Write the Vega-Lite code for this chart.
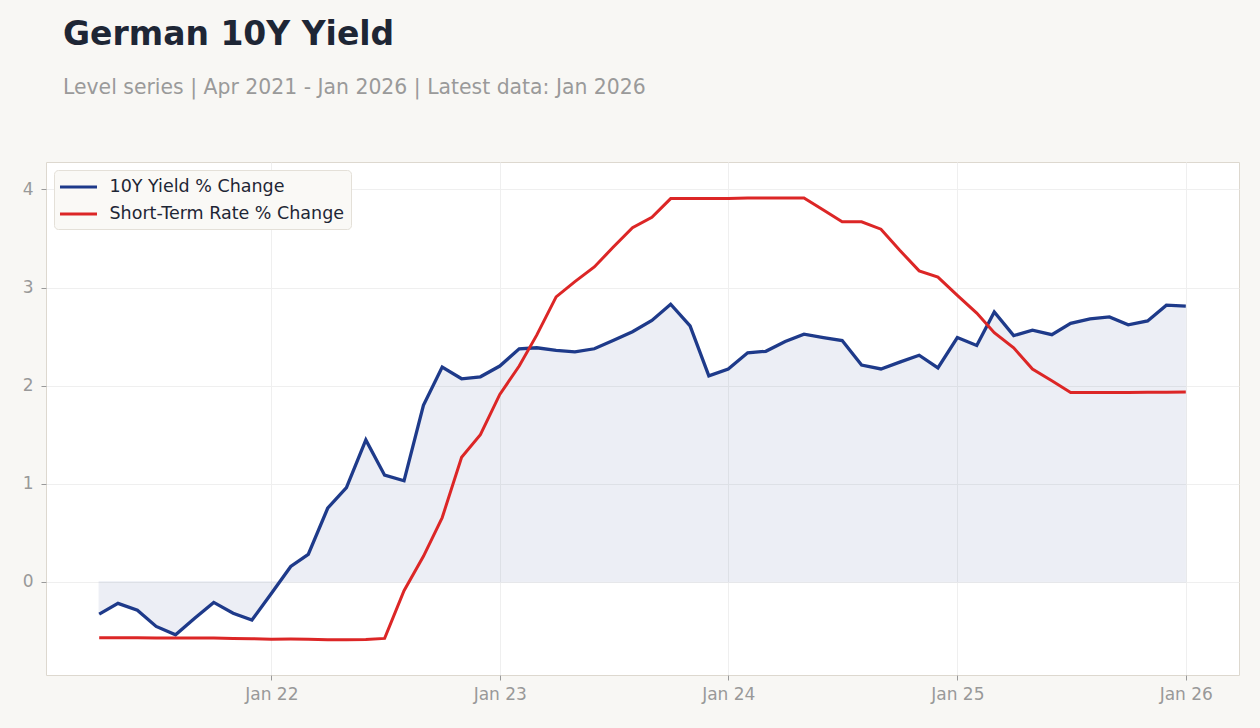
{
  "$schema": "https://vega.github.io/schema/vega-lite/v6.json",
  "autosize": {"type": "none"},
  "width": 1193,
  "height": 513,
  "padding": {"left": 46, "top": 162, "right": 21, "bottom": 53},
  "background": "#f8f7f4",
  "title": {
    "text": "German 10Y Yield",
    "subtitle": "Level series | Apr 2021 - Jan 2026 | Latest data: Jan 2026",
    "anchor": "start",
    "frame": "group",
    "dx": 17,
    "offset": 64,
    "font": "DejaVu Sans",
    "fontSize": 33,
    "fontWeight": "bold",
    "color": "#1e2635",
    "subtitleFont": "DejaVu Sans",
    "subtitleFontSize": 20.4,
    "subtitleColor": "#9a9a9a",
    "subtitlePadding": 26
  },
  "config": {
    "font": "DejaVu Sans",
    "view": {"fill": "#ffffff", "stroke": "#ddd8cf", "strokeWidth": 1},
    "axis": {
      "domain": false,
      "labelColor": "#999999",
      "labelFontSize": 17,
      "labelFont": "DejaVu Sans",
      "tickColor": "#999999",
      "tickSize": 5,
      "gridColor": "#efefef",
      "gridWidth": 1,
      "title": null
    }
  },
  "data": {
    "values": [
      {"date": "2021-04-01", "series": "10Y Yield % Change", "value": -0.33},
      {"date": "2021-05-01", "series": "10Y Yield % Change", "value": -0.22},
      {"date": "2021-06-01", "series": "10Y Yield % Change", "value": -0.29},
      {"date": "2021-07-01", "series": "10Y Yield % Change", "value": -0.455},
      {"date": "2021-08-01", "series": "10Y Yield % Change", "value": -0.54},
      {"date": "2021-09-01", "series": "10Y Yield % Change", "value": -0.37},
      {"date": "2021-10-01", "series": "10Y Yield % Change", "value": -0.21},
      {"date": "2021-11-01", "series": "10Y Yield % Change", "value": -0.32},
      {"date": "2021-12-01", "series": "10Y Yield % Change", "value": -0.39},
      {"date": "2022-01-01", "series": "10Y Yield % Change", "value": -0.12},
      {"date": "2022-02-01", "series": "10Y Yield % Change", "value": 0.156},
      {"date": "2022-03-01", "series": "10Y Yield % Change", "value": 0.28},
      {"date": "2022-04-01", "series": "10Y Yield % Change", "value": 0.75},
      {"date": "2022-05-01", "series": "10Y Yield % Change", "value": 0.96},
      {"date": "2022-06-01", "series": "10Y Yield % Change", "value": 1.446},
      {"date": "2022-07-01", "series": "10Y Yield % Change", "value": 1.087},
      {"date": "2022-08-01", "series": "10Y Yield % Change", "value": 1.03},
      {"date": "2022-09-01", "series": "10Y Yield % Change", "value": 1.80},
      {"date": "2022-10-01", "series": "10Y Yield % Change", "value": 2.19},
      {"date": "2022-11-01", "series": "10Y Yield % Change", "value": 2.07},
      {"date": "2022-12-01", "series": "10Y Yield % Change", "value": 2.09},
      {"date": "2023-01-01", "series": "10Y Yield % Change", "value": 2.20},
      {"date": "2023-02-01", "series": "10Y Yield % Change", "value": 2.376},
      {"date": "2023-03-01", "series": "10Y Yield % Change", "value": 2.386},
      {"date": "2023-04-01", "series": "10Y Yield % Change", "value": 2.36},
      {"date": "2023-05-01", "series": "10Y Yield % Change", "value": 2.345},
      {"date": "2023-06-01", "series": "10Y Yield % Change", "value": 2.376},
      {"date": "2023-07-01", "series": "10Y Yield % Change", "value": 2.46},
      {"date": "2023-08-01", "series": "10Y Yield % Change", "value": 2.55},
      {"date": "2023-09-01", "series": "10Y Yield % Change", "value": 2.665},
      {"date": "2023-10-01", "series": "10Y Yield % Change", "value": 2.83},
      {"date": "2023-11-01", "series": "10Y Yield % Change", "value": 2.61},
      {"date": "2023-12-01", "series": "10Y Yield % Change", "value": 2.10},
      {"date": "2024-01-01", "series": "10Y Yield % Change", "value": 2.17},
      {"date": "2024-02-01", "series": "10Y Yield % Change", "value": 2.335},
      {"date": "2024-03-01", "series": "10Y Yield % Change", "value": 2.35},
      {"date": "2024-04-01", "series": "10Y Yield % Change", "value": 2.45},
      {"date": "2024-05-01", "series": "10Y Yield % Change", "value": 2.525},
      {"date": "2024-06-01", "series": "10Y Yield % Change", "value": 2.49},
      {"date": "2024-07-01", "series": "10Y Yield % Change", "value": 2.46},
      {"date": "2024-08-01", "series": "10Y Yield % Change", "value": 2.21},
      {"date": "2024-09-01", "series": "10Y Yield % Change", "value": 2.17},
      {"date": "2024-10-01", "series": "10Y Yield % Change", "value": 2.24},
      {"date": "2024-11-01", "series": "10Y Yield % Change", "value": 2.31},
      {"date": "2024-12-01", "series": "10Y Yield % Change", "value": 2.18},
      {"date": "2025-01-01", "series": "10Y Yield % Change", "value": 2.49},
      {"date": "2025-02-01", "series": "10Y Yield % Change", "value": 2.41},
      {"date": "2025-03-01", "series": "10Y Yield % Change", "value": 2.75},
      {"date": "2025-04-01", "series": "10Y Yield % Change", "value": 2.51},
      {"date": "2025-05-01", "series": "10Y Yield % Change", "value": 2.566},
      {"date": "2025-06-01", "series": "10Y Yield % Change", "value": 2.52},
      {"date": "2025-07-01", "series": "10Y Yield % Change", "value": 2.635},
      {"date": "2025-08-01", "series": "10Y Yield % Change", "value": 2.68},
      {"date": "2025-09-01", "series": "10Y Yield % Change", "value": 2.70},
      {"date": "2025-10-01", "series": "10Y Yield % Change", "value": 2.62},
      {"date": "2025-11-01", "series": "10Y Yield % Change", "value": 2.66},
      {"date": "2025-12-01", "series": "10Y Yield % Change", "value": 2.82},
      {"date": "2026-01-01", "series": "10Y Yield % Change", "value": 2.81},
      {"date": "2021-04-01", "series": "Short-Term Rate % Change", "value": -0.57},
      {"date": "2021-05-01", "series": "Short-Term Rate % Change", "value": -0.57},
      {"date": "2021-06-01", "series": "Short-Term Rate % Change", "value": -0.57},
      {"date": "2021-07-01", "series": "Short-Term Rate % Change", "value": -0.572},
      {"date": "2021-08-01", "series": "Short-Term Rate % Change", "value": -0.573},
      {"date": "2021-09-01", "series": "Short-Term Rate % Change", "value": -0.573},
      {"date": "2021-10-01", "series": "Short-Term Rate % Change", "value": -0.574},
      {"date": "2021-11-01", "series": "Short-Term Rate % Change", "value": -0.577},
      {"date": "2021-12-01", "series": "Short-Term Rate % Change", "value": -0.58},
      {"date": "2022-01-01", "series": "Short-Term Rate % Change", "value": -0.585},
      {"date": "2022-02-01", "series": "Short-Term Rate % Change", "value": -0.583},
      {"date": "2022-03-01", "series": "Short-Term Rate % Change", "value": -0.585},
      {"date": "2022-04-01", "series": "Short-Term Rate % Change", "value": -0.59},
      {"date": "2022-05-01", "series": "Short-Term Rate % Change", "value": -0.59},
      {"date": "2022-06-01", "series": "Short-Term Rate % Change", "value": -0.588},
      {"date": "2022-07-01", "series": "Short-Term Rate % Change", "value": -0.577},
      {"date": "2022-08-01", "series": "Short-Term Rate % Change", "value": -0.09},
      {"date": "2022-09-01", "series": "Short-Term Rate % Change", "value": 0.26},
      {"date": "2022-10-01", "series": "Short-Term Rate % Change", "value": 0.655},
      {"date": "2022-11-01", "series": "Short-Term Rate % Change", "value": 1.27},
      {"date": "2022-12-01", "series": "Short-Term Rate % Change", "value": 1.50},
      {"date": "2023-01-01", "series": "Short-Term Rate % Change", "value": 1.91},
      {"date": "2023-02-01", "series": "Short-Term Rate % Change", "value": 2.20},
      {"date": "2023-03-01", "series": "Short-Term Rate % Change", "value": 2.515},
      {"date": "2023-04-01", "series": "Short-Term Rate % Change", "value": 2.905},
      {"date": "2023-05-01", "series": "Short-Term Rate % Change", "value": 3.06},
      {"date": "2023-06-01", "series": "Short-Term Rate % Change", "value": 3.21},
      {"date": "2023-07-01", "series": "Short-Term Rate % Change", "value": 3.41},
      {"date": "2023-08-01", "series": "Short-Term Rate % Change", "value": 3.61},
      {"date": "2023-09-01", "series": "Short-Term Rate % Change", "value": 3.717},
      {"date": "2023-10-01", "series": "Short-Term Rate % Change", "value": 3.907},
      {"date": "2023-11-01", "series": "Short-Term Rate % Change", "value": 3.908},
      {"date": "2023-12-01", "series": "Short-Term Rate % Change", "value": 3.908},
      {"date": "2024-01-01", "series": "Short-Term Rate % Change", "value": 3.908},
      {"date": "2024-02-01", "series": "Short-Term Rate % Change", "value": 3.913},
      {"date": "2024-03-01", "series": "Short-Term Rate % Change", "value": 3.913},
      {"date": "2024-04-01", "series": "Short-Term Rate % Change", "value": 3.914},
      {"date": "2024-05-01", "series": "Short-Term Rate % Change", "value": 3.914},
      {"date": "2024-06-01", "series": "Short-Term Rate % Change", "value": 3.79},
      {"date": "2024-07-01", "series": "Short-Term Rate % Change", "value": 3.67},
      {"date": "2024-08-01", "series": "Short-Term Rate % Change", "value": 3.67},
      {"date": "2024-09-01", "series": "Short-Term Rate % Change", "value": 3.595},
      {"date": "2024-10-01", "series": "Short-Term Rate % Change", "value": 3.38},
      {"date": "2024-11-01", "series": "Short-Term Rate % Change", "value": 3.17},
      {"date": "2024-12-01", "series": "Short-Term Rate % Change", "value": 3.106},
      {"date": "2025-01-01", "series": "Short-Term Rate % Change", "value": 2.92},
      {"date": "2025-02-01", "series": "Short-Term Rate % Change", "value": 2.74},
      {"date": "2025-03-01", "series": "Short-Term Rate % Change", "value": 2.54},
      {"date": "2025-04-01", "series": "Short-Term Rate % Change", "value": 2.386},
      {"date": "2025-05-01", "series": "Short-Term Rate % Change", "value": 2.17},
      {"date": "2025-06-01", "series": "Short-Term Rate % Change", "value": 2.05},
      {"date": "2025-07-01", "series": "Short-Term Rate % Change", "value": 1.93},
      {"date": "2025-08-01", "series": "Short-Term Rate % Change", "value": 1.93},
      {"date": "2025-09-01", "series": "Short-Term Rate % Change", "value": 1.93},
      {"date": "2025-10-01", "series": "Short-Term Rate % Change", "value": 1.931},
      {"date": "2025-11-01", "series": "Short-Term Rate % Change", "value": 1.932},
      {"date": "2025-12-01", "series": "Short-Term Rate % Change", "value": 1.933},
      {"date": "2026-01-01", "series": "Short-Term Rate % Change", "value": 1.935}
    ]
  },
  "encoding": {
    "x": {
      "field": "date",
      "type": "temporal",
      "scale": {
        "type": "utc",
        "domain": [
          {"year": 2021, "month": 1, "date": 6, "utc": true},
          {"year": 2026, "month": 3, "date": 27, "utc": true}
        ]
      },
      "axis": {
        "values": [
          {"year": 2022, "month": 1, "date": 1, "utc": true},
          {"year": 2023, "month": 1, "date": 1, "utc": true},
          {"year": 2024, "month": 1, "date": 1, "utc": true},
          {"year": 2025, "month": 1, "date": 1, "utc": true},
          {"year": 2026, "month": 1, "date": 1, "utc": true}
        ],
        "format": "%b %y",
        "labelPadding": 6
      }
    },
    "y": {
      "field": "value",
      "type": "quantitative",
      "scale": {"domain": [-0.95, 4.28], "nice": false, "zero": false},
      "axis": {"values": [0, 1, 2, 3, 4], "labelPadding": 8}
    }
  },
  "layer": [
    {
      "transform": [{"filter": "datum.series === '10Y Yield % Change'"}],
      "mark": {"type": "area", "color": "#1e3a8a", "opacity": 0.08, "stroke": "#1e3a8a", "strokeOpacity": 1, "strokeWidth": 1.2},
      "encoding": {"y2": {"datum": 0}}
    },
    {
      "transform": [{"filter": "datum.series === '10Y Yield % Change'"}],
      "mark": {"type": "line", "strokeWidth": 3.3},
      "encoding": {
        "color": {
          "field": "series",
          "type": "nominal",
          "scale": {"domain": ["10Y Yield % Change", "Short-Term Rate % Change"], "range": ["#1e3a8a", "#dc2626"]},
          "legend": {
            "title": null,
            "orient": "top-left",
            "offset": 8,
            "padding": 6,
            "fillColor": "#faf9f6",
            "strokeColor": "#e4e0d8",
            "cornerRadius": 4,
            "symbolType": "M-2,0H2",
            "symbolSize": 342,
            "symbolOffset": 7.5,
            "symbolStrokeWidth": 3,
            "labelFontSize": 17.5,
            "labelColor": "#1e2635",
            "labelFont": "DejaVu Sans",
            "labelOffset": 20,
            "labelLimit": 0,
            "rowPadding": 7
          }
        }
      }
    },
    {
      "transform": [{"filter": "datum.series === 'Short-Term Rate % Change'"}],
      "mark": {"type": "line", "strokeWidth": 3},
      "encoding": {
        "color": {"field": "series", "type": "nominal"}
      }
    }
  ]
}
